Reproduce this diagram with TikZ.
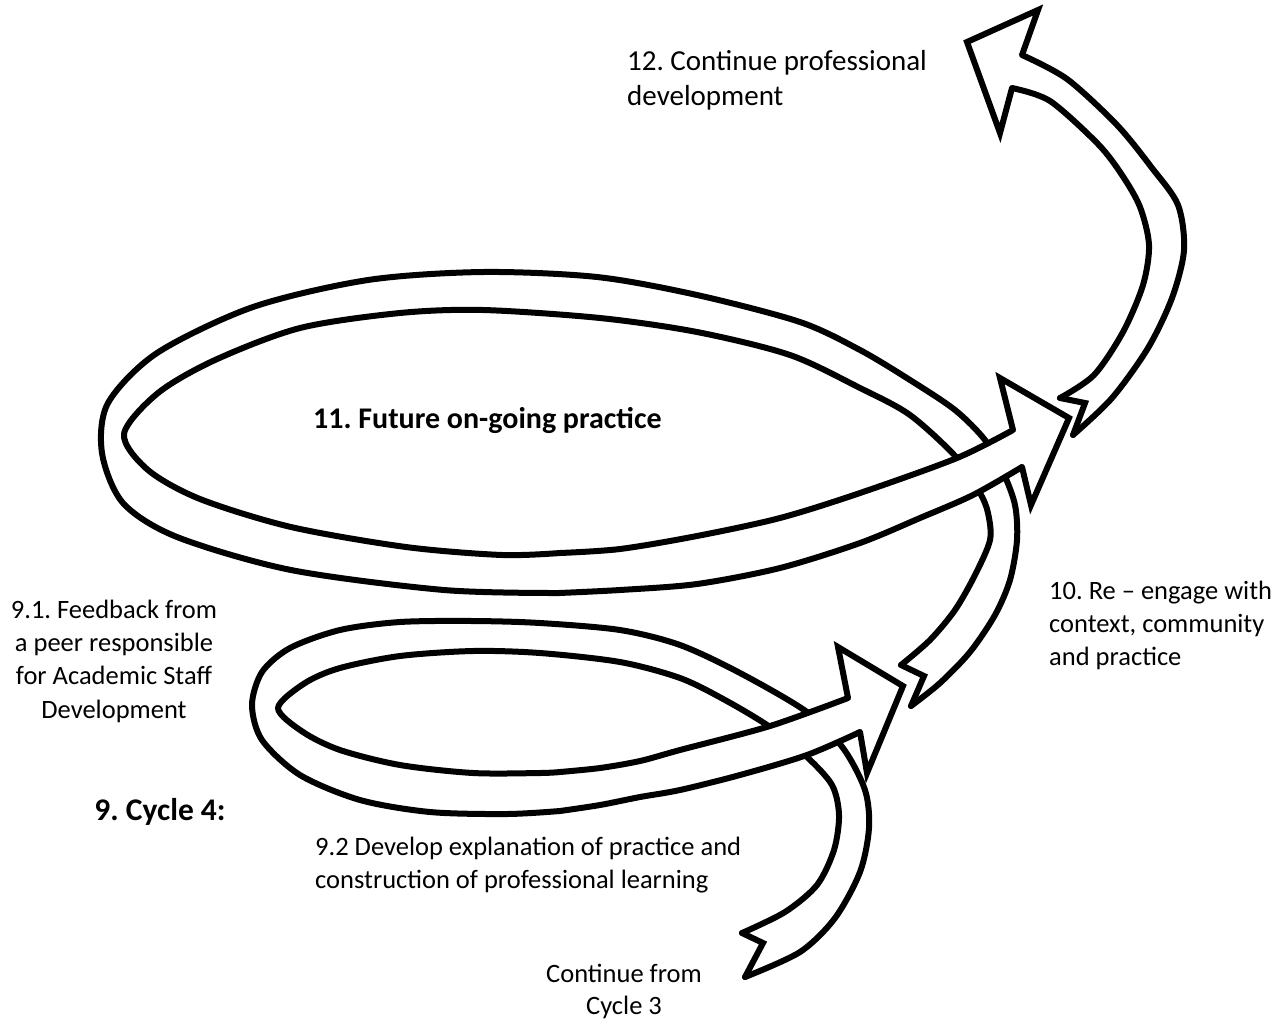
\documentclass[tikz,border=0pt]{standalone}
\usepackage{fontspec}
\setmainfont{Carlito}
\frenchspacing

% A ribbon: #1 = one side from start to end, #2 = other side from end back to start,
% #3 = extra closing points of the filled outline (e.g. a tail notch)
\newcommand\drawribbon[3]{%
  \fill[white] plot[smooth] coordinates {#1} -- plot[smooth] coordinates {#2} #3 -- cycle;
  \draw[edge] plot[smooth] coordinates {#1};
  \draw[edge] plot[smooth] coordinates {#2};
}
% Arrow head: #1 base (side 1), #2 barb 1, #3 tip, #4 barb 2, #5 base (side 2)
\newcommand\drawhead[5]{%
  \fill[white] #1 -- #2 -- #3 -- #4 -- #5 -- cycle;
  \draw[tipline] #1 -- #2 -- #3 -- #4 -- #5;
}

\begin{document}
\begin{tikzpicture}[x=1pt,y=-1pt,
  edge/.style={line width=6pt, line cap=round, line join=round},
  tipline/.style={line width=6pt, line join=miter, miter limit=12, line cap=round},
  lbl/.style={inner sep=0pt, text=black},
]
\useasboundingbox (0,0) rectangle (1287,1021);

% ---------- Cycle 4: small loop ----------
\drawribbon
  {(745,977) (800,952) (835,918) (860,872) (869,828) (865,790) (843,748) (807,712)
   (740,673) (680,645) (620,630) (540,623) (473,621) (400,622) (340,630) (290,648)
   (262,672) (252,705) (262,740) (300,775) (360,800) (430,812) (507,814) (560,811)}
  {(560,772) (540,773) (473,773) (400,765) (340,750) (303,732) (278,708) (305,683)
   (340,668) (400,656) (473,651) (540,653) (620,662) (680,678) (725,700) (770,727)
   (807,757) (832,785) (839,815) (834,850) (817,885) (785,912) (742,933)}
  {-- (763,943)}
\draw[tipline] (742,933) -- (763,943) -- (745,977);
% front part of the small loop, passing over its rising part
\drawribbon
  {(560,811) (600,805) (640,797) (680,790) (740,775) (807,755) (860,732)}
  {(848,698) (770,726) (680,750) (640,761) (600,768) (560,772)}
  {}
\drawhead{(848,698)}{(838,647)}{(903,686)}{(867,773)}{(860,732)}

% ---------- Re-engage and big loop ----------
\drawribbon
  {(911,706) (940,683) (970,652) (995,615) (1010,580) (1017,540) (1015,505) (1003,472)
   (985,440) (955,410) (910,380) (860,350) (800,322) (697,295) (597,277) (483,272)
   (368,280) (253,307) (157,353) (108,403) (102,453) (123,503) (177,537) (291,570)
   (444,590) (559,593)}
  {(560,553) (502,555) (406,547) (291,527) (200,499) (148,470) (124,434) (158,393)
   (215,360) (300,328) (400,313) (483,310) (600,318) (697,332) (790,355) (860,388)
   (910,415) (957,458) (980,493) (988,513) (990,540) (975,575) (955,610) (930,640)
   (901,665)}
  {-- (924,676)}
\draw[tipline] (901,665) -- (924,676) -- (911,706);
\drawribbon
  {(559,593) (620,590) (697,584) (780,568) (860,543) (920,518) (973,495) (1022,467)}
  {(1013,430) (957,458) (860,493) (780,518) (697,536) (620,549) (560,553)}
  {}
\drawhead{(1013,430)}{(1000,378)}{(1069,418)}{(1031,505)}{(1022,467)}

% ---------- Continue professional development ----------
\drawribbon
  {(1073,435) (1112,398) (1148,348) (1172,298) (1184,250) (1178,205) (1152,168)
   (1117,125) (1067,79) (1022,55)}
  {(1012,88) (1050,101) (1098,144) (1122,175) (1140,207) (1149,245) (1143,285)
   (1123,332) (1094,375) (1060,398)}
  {-- (1085,403)}
\draw[tipline] (1060,398) -- (1085,403) -- (1073,435);
\drawhead{(1022,55)}{(1038,10)}{(967,42)}{(1000,133)}{(1012,88)}

% ---------- labels (multi-line nodes: base = baseline of the last line) ----------
\node[lbl, anchor=base west, align=left, font=\fontsize{29}{35}\selectfont]
  (t12) at (627,105) {12. Continue professional\\development};
\node[lbl, anchor=base west, font=\bfseries\fontsize{30}{36}\selectfont]
  (t11) at (313,428) {11. Future on-going practice};
\node[lbl, anchor=base, align=center, font=\fontsize{26.5}{33.3}\selectfont]
  (t91) at (114,718) {9.1. Feedback from\\a peer responsible\\for Academic Staff\\Development};
\node[lbl, anchor=base, font=\bfseries\fontsize{31.5}{38}\selectfont]
  (t9) at (160,820) {9. Cycle 4:};
\node[lbl, anchor=base west, align=left, font=\fontsize{26.5}{33}\selectfont]
  (t92) at (315,888) {9.2 Develop explanation of practice and\\construction of professional learning};
\node[lbl, anchor=base west, align=left, font=\fontsize{26.5}{32.8}\selectfont]
  (t10) at (1049,665) {10. Re \textendash{} engage with\\context, community\\and practice};
\node[lbl, anchor=base, align=center, font=\fontsize{26.5}{31.5}\selectfont]
  (t3) at (624,1014) {Continue from\\Cycle 3};
\end{tikzpicture}
\end{document}
